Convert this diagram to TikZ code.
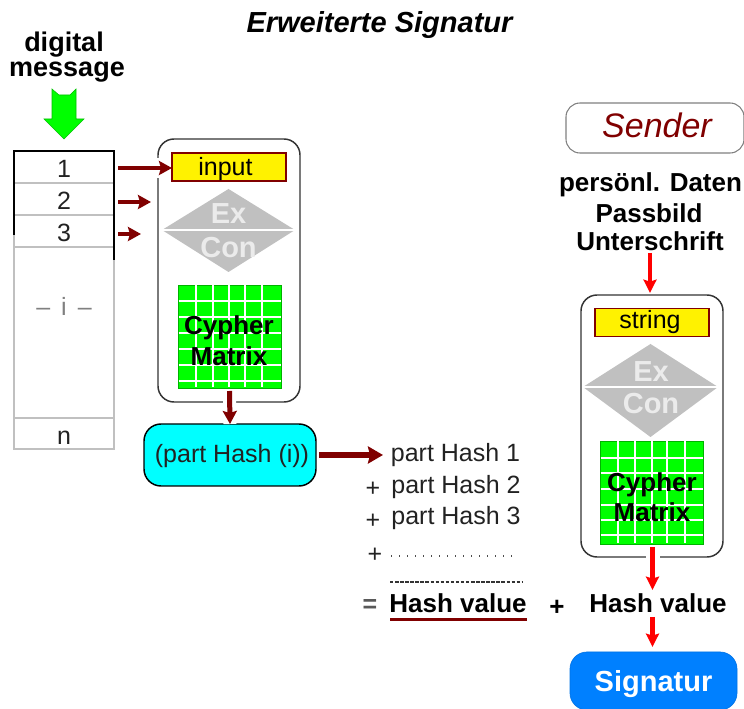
\documentclass[tikz,border=0pt]{standalone}
\usepackage{fontspec}
\setmainfont{Liberation Sans}
\usetikzlibrary{arrows.meta}
\newdimen\pu \pu=0.75pt
\definecolor{dred}{HTML}{800000}
\definecolor{lgray}{HTML}{C0C0C0}
\definecolor{cyanbox}{HTML}{00FFFF}
\definecolor{bluebox}{HTML}{0080FF}
\definecolor{txt}{HTML}{222222}
\newcommand{\pxfont}[1]{\fontsize{#1\pu}{#1\pu}\selectfont}
\tikzset{
  x=0.75pt,y=-0.75pt,
  lbl/.style={anchor=base,inner sep=0pt,outer sep=0pt,text=txt,font=\pxfont{25}},
  bld/.style={lbl,text=black,font=\pxfont{26}\bfseries},
  bx/.style 2 args={draw,inner sep=0pt,outer sep=0pt,minimum width=#1\pu,minimum height=#2\pu},
  bl/.style={text height=2*#1\pu,text depth=0pt},
  rowbox/.style={bx={100}{#1},draw=lgray,line width=1pt,text=txt,font=\pxfont{25}},
  modbox/.style 2 args={bx={#1}{#2},draw=black!80,line width=1.1pt,rounded corners=16\pu,fill=white},
  fieldbox/.style={bx={114}{28},draw=dred,line width=1.1pt,fill=yellow,text=black,font=\pxfont{25},bl=9},
  mtx/.style={bx={103}{103},draw=green!70!black,line width=0.5pt,fill=green},
  gridline/.style={white,line width=1.2pt},
  dia/.style={fill=lgray},
  dialine/.style={white,line width=1.3pt},
  exc/.style={lbl,text=white!92!black,font=\pxfont{29}\bfseries},
  darrow/.style={dred,line width=#1*0.75pt,-{Stealth[length=9.75pt,width=10.5pt,inset=1.5pt]}},
  bigarrow/.style={dred,line width=4.5pt,-{Stealth[length=11.25pt,width=12.75pt,inset=1.5pt]}},
  rarrow/.style={red,line width=#1*0.75pt,-{Stealth[length=10pt,width=9.75pt,inset=1.5pt]}},
  halo/.style={preaction={draw=white,line width=#1*0.75pt,-}},
}
\begin{document}
\begin{tikzpicture}
\useasboundingbox (0,0) rectangle (744,709);
% title
\node[lbl,text=black,font=\pxfont{29}\bfseries\itshape] (title) at (379.5,33) {Erweiterte Signatur};
\node[bld,font=\pxfont{27}\bfseries] (dig) at (64,52) {digital};
\node[bld,font=\pxfont{27}\bfseries] (msg) at (67,77) {message};
% green arrow
\fill[green,draw=green!75!black,line width=0.4pt] (52,89) -- (59,95) -- (70,95) -- (76,89) -- (76,119) -- (84,119) -- (64,139) -- (44,119) -- (52,119) -- cycle;
% table
\node[rowbox=32,bl=11] (r1) at (64,167) {1};
\node[rowbox=32,bl=11] (r2) at (64,199) {2};
\node[rowbox=32,bl=11] (r3) at (64,231) {3};
\node[rowbox=171] (ri) at (64,332.5) {};
\node[lbl,text=gray] (itext) at (64,316) {–\hspace{11\pu}i\hspace{11\pu}–};
\node[rowbox=31,bl=11] (rn) at (64,433.5) {n};
\draw[black,line width=1.1pt] (14,235) -- (14,151) -- (114,151) -- (114,260);
% left module
\node[modbox={142}{263}] (m1) at (229,270.5) {};
\coordinate (a1) at (172,168);
\coordinate (a2) at (151,202);
\coordinate (a3) at (141,234);
\draw[darrow=4,halo=20] (118,168) -- (a1);
\draw[darrow=4] (118,202) -- (a2);
\draw[darrow=4] (118,234) -- (a3);
\node[fieldbox] (input) at (229,167) {\hspace*{-7\pu}input};
\fill[dia] (162,230) -- (228.5,189) -- (295,230) -- (228.5,272) -- cycle;
\draw[dialine] (162,230) -- (295,230);
\node[exc] (ex1) at (228.5,224) {Ex};
\node[exc] (con1) at (228.5,258) {Con};
\node[mtx] (mx1) at (229.5,336.5) {};
\foreach \v in {196,213,229,245,262} \draw[gridline] (\v,285.5) -- (\v,387.5);
\foreach \h in {301,317,333,349,365,381} \draw[gridline] (178.5,\h) -- (280.5,\h);
\node[bld] (c1) at (229,335) {Cypher};
\node[bld] (t1) at (229,366) {Matrix};
% part hash
\node[bx={172}{62},draw=black,line width=1.1pt,rounded corners=17\pu,fill=cyanbox,text=txt,font=\pxfont{25},bl=8] (ph) at (230,455) {\hspace*{4\pu}(part Hash (i))};
\draw[darrow=5,halo=13] ([yshift=-3\pu]mx1.south) -- (ph.north);
\coordinate (pe) at (383,455);
\draw[bigarrow] ([xshift=3\pu]ph.east) -- (pe);
% sum
\node[lbl] (h1) at (455.5,462) {part Hash 1};
\node[lbl] (h2) at (456,494) {part Hash 2};
\node[lbl] (h3) at (456,525) {part Hash 3};
\node[lbl] (p2) at (373,497) {+};
\node[lbl] (p3) at (373,529) {+};
\node[lbl] (p4) at (375,563) {+};
\coordinate (dl) at (391,556); \coordinate (dr) at (513,556);
\draw[black!70,line width=0.9pt,dash pattern=on 1pt off 5pt] (dl) -- (dr);
\coordinate (sl) at (390,582); \coordinate (sr) at (523,582);
\draw[black!80,line width=0.9pt,dash pattern=on 2.6pt off 1.2pt] (sl) -- (sr);
\node[lbl,font=\pxfont{25}\bfseries,text=black!65] (eq) at (370,613) {=};
\node[bld] (hv1) at (458,613) {Hash value};
\coordinate (ul) at (390,620); \coordinate (ur) at (527,620);
\draw[dred,line width=2.25pt] (ul) -- (ur);
\node[bld] (plus) at (557,616) {+};
\node[bld] (hv2) at (658,613) {Hash value};
% sender
\node[bx={178}{50},draw=gray,line width=0.8pt,rounded corners=14\pu,text=dred,font=\pxfont{34}\itshape,bl=10] (sender) at (655,128) {\hspace*{4\pu}Sender};
\node[bld] (pd) at (650.5,192) {persönl. Daten};
\node[bld] (pb) at (649,223) {Passbild};
\node[bld] (us) at (650,251) {Unterschrift};
% right module
\node[modbox={142}{262}] (m2) at (652,426) {};
\coordinate (a4s) at (650,253);
\coordinate (a4e) at (650,293);
\draw[rarrow=4] (a4s) -- (a4e);
\node[fieldbox,bl=6] (string) at (652,322.5) {\hspace*{-4\pu}string};
\fill[dia] (583,387) -- (650.5,344) -- (718,387) -- (650.5,437) -- cycle;
\draw[dialine] (583,387) -- (718,387);
\node[exc] (ex2) at (651,382) {Ex};
\node[exc] (con2) at (651,414) {Con};
\node[mtx] (mx2) at (651.5,492.5) {};
\foreach \v in {618,635,652,667,685} \draw[gridline] (\v,441.5) -- (\v,543.5);
\foreach \h in {458,473,489,505,520,535} \draw[gridline] (600.5,\h) -- (702.5,\h);
\node[bld] (c2) at (652,492) {Cypher};
\node[bld] (t2) at (652,522) {Matrix};
\coordinate (hv2top) at (652.5,590);
\draw[rarrow=5,halo=14] ([xshift=1\pu,yshift=-3\pu]mx2.south) -- (hv2top);
% signatur
\node[bx={167}{58},draw=bluebox!90!black,line width=0.5pt,fill=bluebox,rounded corners=17\pu,text=white,font=\pxfont{29}\bfseries,bl=11] (sig) at (653.5,681) {Signatur};
\coordinate (a6s) at (652.5,617);
\draw[rarrow=5] (a6s) -- ([yshift=5\pu]a6s |- sig.north);
\end{tikzpicture}
\end{document}
